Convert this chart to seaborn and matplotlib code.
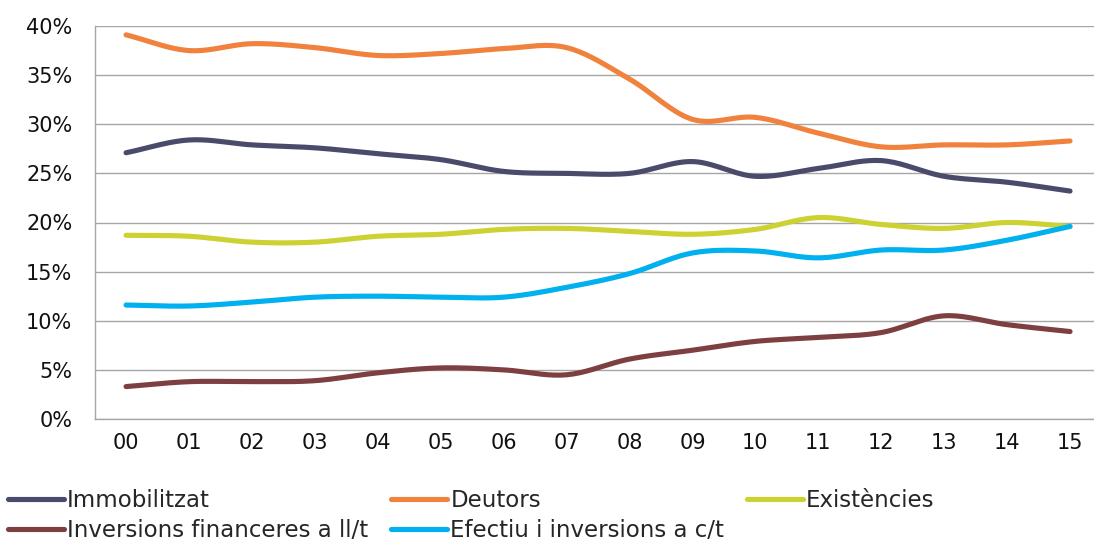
import numpy as np
import pandas as pd
import matplotlib
matplotlib.use("Agg")
import matplotlib.pyplot as plt
import seaborn as sns
from matplotlib.ticker import FixedLocator, PercentFormatter

# DATA (percentages)
years = ["00", "01", "02", "03", "04", "05", "06", "07",
         "08", "09", "10", "11", "12", "13", "14", "15"]

immobilitzat = [27.1, 28.4, 27.9, 27.6, 27.0, 26.4, 25.2, 25.0,
                25.0, 26.2, 24.7, 25.5, 26.3, 24.7, 24.1, 23.2]
deutors = [39.1, 37.5, 38.2, 37.8, 37.0, 37.2, 37.7, 37.8,
           34.6, 30.5, 30.7, 29.1, 27.7, 27.9, 27.9, 28.3]
existencies = [18.7, 18.6, 18.0, 18.0, 18.6, 18.8, 19.3, 19.4,
               19.1, 18.8, 19.3, 20.5, 19.8, 19.4, 20.0, 19.6]
inversions_llt = [3.3, 3.8, 3.8, 3.9, 4.7, 5.2, 5.0, 4.5,
                  6.1, 7.0, 7.9, 8.3, 8.8, 10.5, 9.6, 8.9]
efectiu = [11.6, 11.5, 11.9, 12.4, 12.5, 12.4, 12.4, 13.4,
           14.8, 16.9, 17.1, 16.4, 17.2, 17.2, 18.2, 19.6]

series = {
    "Immobilitzat": immobilitzat,
    "Deutors": deutors,
    "Existències": existencies,
    "Inversions financeres a ll/t": inversions_llt,
    "Efectiu i inversions a c/t": efectiu,
}
colors = {
    "Immobilitzat": "#4a4b6b",
    "Deutors": "#f0823e",
    "Existències": "#cdd132",
    "Inversions financeres a ll/t": "#7e3f40",
    "Efectiu i inversions a c/t": "#00b0ef",
}


def smooth(y, n=20):
    # Catmull-Rom style curve through the points, like a smoothed office chart line
    y = np.asarray(y, dtype=float)
    p = np.concatenate([[2 * y[0] - y[1]], y, [2 * y[-1] - y[-2]]])
    xs, ys = [], []
    for i in range(len(y) - 1):
        p0, p1, p2, p3 = p[i], p[i + 1], p[i + 2], p[i + 3]
        t = np.linspace(0, 1, n, endpoint=False)
        v = 0.5 * ((2 * p1) + (-p0 + p2) * t
                   + (2 * p0 - 5 * p1 + 4 * p2 - p3) * t ** 2
                   + (-p0 + 3 * p1 - 3 * p2 + p3) * t ** 3)
        xs.extend(i + t)
        ys.extend(v)
    xs.append(len(y) - 1)
    ys.append(y[-1])
    return np.array(xs), np.array(ys)


rows = []
for name, vals in series.items():
    xs, ys = smooth(vals)
    for x, v in zip(xs, ys):
        rows.append({"x": x, "value": v / 100, "serie": name})
df = pd.DataFrame(rows)

sns.set_style("white")
plt.rcParams["font.family"] = ["DejaVu Sans"]

fig = plt.figure(figsize=(10.94, 5.41), dpi=100)
# plot area runs a little past the right edge, as in the reference
ax = fig.add_axes([94.6 / 1094, 1 - 419 / 541, (1101.5 - 94.6) / 1094, (419 - 26) / 541])

sns.lineplot(data=df, x="x", y="value", hue="serie", palette=colors,
             hue_order=list(series.keys()), linewidth=3.7, ax=ax,
             legend=False, solid_capstyle="round", estimator=None, sort=False)

ax.set_xlim(-0.5, 15.5)
ax.set_ylim(0, 0.4)
ax.yaxis.set_major_locator(FixedLocator(np.arange(0, 0.401, 0.05)))
ax.yaxis.set_major_formatter(PercentFormatter(1.0, decimals=0))
ax.set_xticks(np.arange(-0.5, 15.6, 1.0))
ax.set_xticklabels([])
ax.set_xticks(range(len(years)), minor=True)
ax.set_xticklabels(years, minor=True)
ax.tick_params(axis="x", which="major", direction="out", length=6, color="#a6a6a6", width=1)
ax.tick_params(axis="x", which="minor", length=0, labelsize=15, pad=10, labelcolor="#111111")
ax.tick_params(axis="y", direction="out", length=6, color="#a6a6a6", width=1,
               labelsize=15, pad=10, labelcolor="#111111")
ax.grid(axis="y", color="#a6a6a6", linewidth=1)
ax.set_xlabel("")
ax.set_ylabel("")
for s in ["top", "right"]:
    ax.spines[s].set_visible(False)
for s in ["left", "bottom"]:
    ax.spines[s].set_color("#a6a6a6")
    ax.spines[s].set_linewidth(1)

# legend: matplotlib fills columns first, so reorder to read row-wise
order = ["Immobilitzat", "Inversions financeres a ll/t", "Deutors",
         "Efectiu i inversions a c/t", "Existències"]
handles = [plt.Line2D([], [], color=colors[k], linewidth=3.7, solid_capstyle="round") for k in order]
fig.legend(handles, order, loc="upper left", bbox_to_anchor=(8 / 1094, 1 - 489 / 541),
           ncol=3, frameon=False, fontsize=16.5, handlelength=2.45, handletextpad=0.13,
           columnspacing=1.0, labelspacing=0.3, borderaxespad=0, borderpad=0)

fig.savefig("out.png", dpi=100)
